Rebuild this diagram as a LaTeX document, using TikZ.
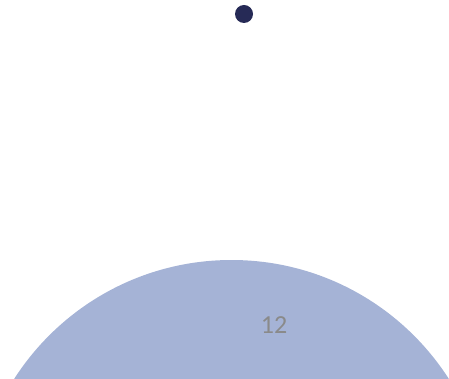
\documentclass[tikz,border=0pt]{standalone}
\usepackage{fontspec}
\setmainfont{Carlito}
\definecolor{circblue}{HTML}{A5B3D6}
\definecolor{dotnavy}{HTML}{262A56}
\definecolor{numgray}{HTML}{8A8A8A}
\begin{document}
\begin{tikzpicture}[x=1pt,y=-1pt,
  bigcirc/.style={fill=circblue,draw=none},
  dotstyle/.style={circle,fill=dotnavy,draw=none,minimum size=18pt,inner sep=0pt},
  numlabel/.style={text=numgray,font=\fontsize{26}{30}\selectfont,inner sep=0pt}]
\useasboundingbox (0,0) rectangle (449,379);
\begin{scope}
\clip (0,0) rectangle (449,379);
\fill[bigcirc] (231.5,518) circle (258);
\end{scope}
\node[dotstyle] (dot) at (244,14) {};
\node[numlabel] (num) at (274,325) {12};
\end{tikzpicture}
\end{document}
